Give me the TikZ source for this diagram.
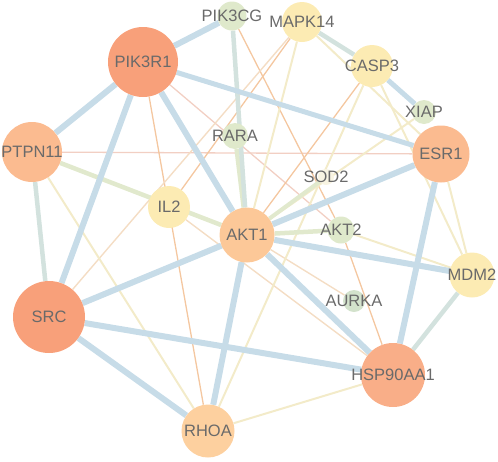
\documentclass[tikz,border=0pt]{standalone}
\usepackage{fontspec}
\setmainfont{Liberation Sans}
\usetikzlibrary{backgrounds}
\definecolor{cSalmon}{HTML}{F8A07A}
\definecolor{cHsp}{HTML}{F9AE88}
\definecolor{cOr}{HTML}{FBBB90}
\definecolor{cLt}{HTML}{FCC898}
\definecolor{cRhoa}{HTML}{FDD09F}
\definecolor{cYel}{HTML}{FCEBB3}
\definecolor{cGrn}{HTML}{DFE9CB}
\definecolor{cAur}{HTML}{D3E2CC}
\definecolor{cSod}{HTML}{F8F4E2}
\definecolor{cTxt}{HTML}{6A6A6A}
\definecolor{eBlue}{HTML}{C7DCE8}
\definecolor{eGray}{HTML}{D3E2DE}
\definecolor{eGrn}{HTML}{E1E9CD}
\definecolor{eYel}{HTML}{F3EBC9}
\definecolor{eOr}{HTML}{F4C7A0}
\definecolor{ePale}{HTML}{F4DDC4}
\definecolor{ePink}{HTML}{F2CFC3}
\begin{document}
\begin{tikzpicture}[x=1pt,y=-1pt,
  gn/.style={circle, draw=none, inner sep=0pt, minimum size=#1},
  lbl/.style={text=cTxt, font=\fontsize{16.5}{18}\selectfont, inner sep=0pt},
  eblue/.style={draw=eBlue, line width=6pt},
  eblueb/.style={draw=eBlue, line width=5pt},
  egray/.style={draw=eGray, line width=4.5pt},
  egrn/.style={draw=eGrn, line width=4.5pt},
  eyel/.style={draw=eYel, line width=2pt},
  eor/.style={draw=eOr, line width=1.3pt},
  epale/.style={draw=ePale, line width=1.4pt},
  epink/.style={draw=ePink, line width=1.3pt}]
\useasboundingbox (0,0) rectangle (498,461);

\node[gn=70, fill=cSalmon, label={[lbl]center:PIK3R1}] (pik3r1) at (143,62) {};
\node[gn=29, fill=cGrn, label={[lbl]center:PIK3CG}] (pik3cg) at (232,16) {};
\node[gn=40, fill=cYel, label={[lbl]center:MAPK14}] (mapk14) at (302,22) {};
\node[gn=42, fill=cYel, label={[lbl]center:CASP3}] (casp3) at (372,66) {};
\node[gn=24, fill=cGrn, label={[lbl]center:XIAP}] (xiap) at (424,112) {};
\node[gn=57, fill=cOr, label={[lbl]center:ESR1}] (esr1) at (441,154) {};
\node[gn=60, fill=cOr, label={[lbl]center:PTPN11}] (ptpn11) at (32,152) {};
\node[gn=26, fill=cGrn, label={[lbl]center:RARA}] (rara) at (235,136) {};
\node[gn=42, fill=cYel, label={[lbl]center:IL2}] (il2) at (169,207) {};
\node[gn=16, fill=cSod, label={[lbl]center:SOD2}] (sod2) at (326,177) {};
\node[gn=55, fill=cLt, label={[lbl]center:AKT1}] (akt1) at (247,235) {};
\node[gn=27, fill=cGrn, label={[lbl]center:AKT2}] (akt2) at (341,230) {};
\node[gn=22, fill=cAur, label={[lbl]center:AURKA}] (aurka) at (354,301) {};
\node[gn=45, fill=cYel, label={[lbl]center:MDM2}] (mdm2) at (472,275) {};
\node[gn=64, fill=cHsp, label={[lbl]center:HSP90AA1}] (hsp) at (393,375) {};
\node[gn=72, fill=cSalmon, label={[lbl]center:SRC}] (src) at (49,317) {};
\node[gn=53, fill=cRhoa, label={[lbl]center:RHOA}] (rhoa) at (208,431) {};

\begin{scope}[on background layer]
% thin lines first
\draw[epink] (ptpn11) -- (esr1);
\draw[epink] (pik3r1) -- (akt2);
\draw[eor] (pik3r1) -- (rhoa);
\draw[eor] (casp3) -- (akt1);
\draw[eor] (mapk14) -- (il2);
\draw[eor] (akt2) -- (hsp);
\draw[eor] (pik3cg) -- (akt2);
\draw[epale] (src) -- (mapk14);
\draw[epale] (il2) -- (hsp);
\draw[epale] (akt1) -- (aurka);
\draw[eyel] (ptpn11) -- (rhoa);
\draw[eyel] (mapk14) -- (akt1);
\draw[eyel] (mapk14) -- (esr1);
\draw[eyel] (casp3) -- (mdm2);
\draw[eyel] (esr1) -- (mdm2);
\draw[eyel] (casp3) -- (rhoa);
\draw[eyel] (rhoa) -- (hsp);
\draw[eyel] (akt2) -- (mdm2);
\draw[draw=eYel, line width=2pt] (akt1) -- (xiap);
% medium
\draw[egrn] (ptpn11) -- (akt1);
\draw[egrn] (rara) -- (akt1);
\draw[egrn] (akt1) -- (akt2);
\draw[draw=eGrn, line width=4pt] (akt1) -- (sod2);
\draw[egray] (pik3cg) -- (akt1);
\draw[egray] (ptpn11) -- (src);
\draw[egray] (mdm2) -- (hsp);
\draw[egray] (mapk14) -- (casp3);
% thick blue
\draw[eblue] (pik3r1) -- (pik3cg);
\draw[eblueb] (pik3r1) -- (esr1);
\draw[eblue] (pik3r1) -- (ptpn11);
\draw[eblue] (pik3r1) -- (src);
\draw[eblue] (pik3r1) -- (akt1);
\draw[eblueb] (casp3) -- (xiap);
\draw[eblue] (esr1) -- (akt1);
\draw[eblue] (esr1) -- (hsp);
\draw[eblue] (akt1) -- (src);
\draw[eblue] (akt1) -- (rhoa);
\draw[eblue] (akt1) -- (mdm2);
\draw[eblue] (akt1) -- (hsp);
\draw[eblue] (src) -- (hsp);
\draw[eblue] (src) -- (rhoa);
\end{scope}
\end{tikzpicture}
\end{document}
